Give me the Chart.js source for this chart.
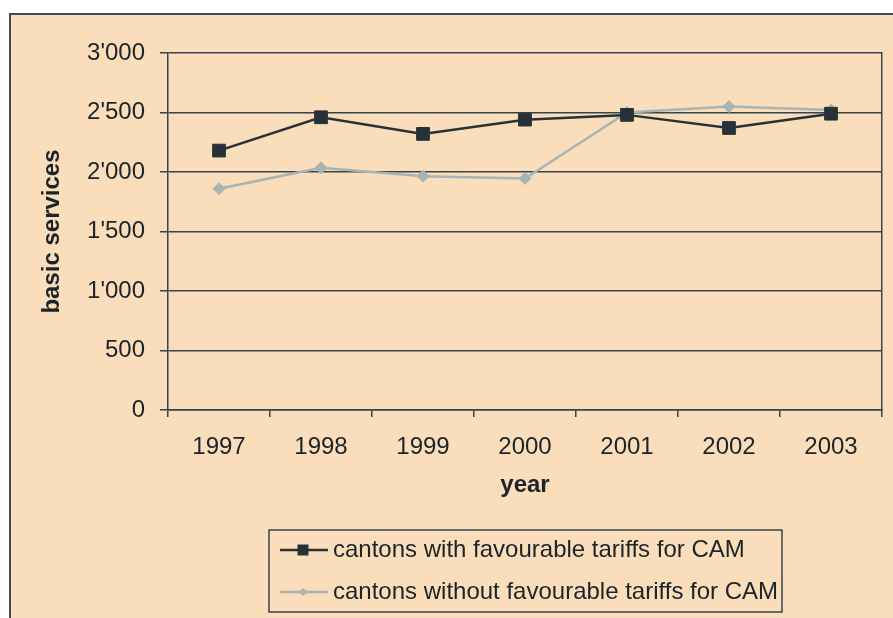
<!DOCTYPE html>
<html>
<head>
<meta charset="utf-8">
<script src="https://cdn.jsdelivr.net/npm/chart.js@4.4.1/dist/chart.umd.min.js"></script>
<style>
  html, body { margin: 0; padding: 0; background: #ffffff; width: 893px; height: 618px; overflow: hidden; }
  #frame {
    position: absolute; left: 9px; top: 13px;
    width: 882px; height: 605px;
    border-left: 2px solid #3a4c54; border-top: 2px solid #3a4c54;
    background: #FADDBA;
  }
  canvas { display: block; }
</style>
</head>
<body>
<div id="frame"><canvas id="c" width="882" height="603"></canvas></div>
<script>
// ---- data ----
const categories = ["1997", "1998", "1999", "2000", "2001", "2002", "2003"];
const withTariffs = [2180, 2460, 2320, 2440, 2480, 2370, 2490];
const withoutTariffs = [1860, 2035, 1965, 1945, 2500, 2550, 2520];
const seriesLabels = ["cantons with favourable tariffs for CAM", "cantons without favourable tariffs for CAM"];
const yTickLabels = ["0", "500", "1'000", "1'500", "2'000", "2'500", "3'000"];
const xTitle = "year";
const yTitle = "basic services";

// ---- styles ----
const FONT = "'Liberation Sans', Arial, sans-serif";
const TEXT = "#1b2428";
const GRID = "#34454c";
const DARK = "#263238";
const LIGHT = "#a6b4b6";

const boxedLegend = {
  id: 'boxedLegend',
  afterDraw(chart) {
    const ctx = chart.ctx;
    ctx.save();
    ctx.strokeStyle = GRID;
    ctx.lineWidth = 1.5;
    ctx.strokeRect(258, 515, 513, 82);
    chart.data.datasets.forEach((ds, i) => {
      const y = 535 + i * 42;
      ctx.strokeStyle = ds.borderColor;
      ctx.lineWidth = 2.5;
      ctx.beginPath(); ctx.moveTo(269, y); ctx.lineTo(317, y); ctx.stroke();
      ctx.fillStyle = ds.backgroundColor;
      ctx.beginPath();
      if (ds.pointStyle === 'rect') {
        ctx.rect(292 - 5.5, y - 5.5, 11, 11);
      } else {
        ctx.moveTo(292 - 4.5, y); ctx.lineTo(292, y - 4); ctx.lineTo(292 + 4.5, y); ctx.lineTo(292, y + 4); ctx.closePath();
      }
      ctx.fill();
      ctx.fillStyle = TEXT;
      ctx.font = "24px " + FONT;
      ctx.textBaseline = 'middle';
      ctx.textAlign = 'left';
      ctx.fillText(ds.label, 322, y);
    });
    ctx.restore();
  }
};

new Chart(document.getElementById('c'), {
  type: 'line',
  data: {
    labels: categories,
    datasets: [
      {
        label: seriesLabels[0], data: withTariffs,
        borderColor: DARK, backgroundColor: DARK, borderWidth: 2.5,
        pointStyle: 'rect', pointRadius: 9, pointBorderWidth: 1, tension: 0
      },
      {
        label: seriesLabels[1], data: withoutTariffs,
        borderColor: LIGHT, backgroundColor: LIGHT, borderWidth: 2.5,
        pointStyle: 'rectRot', pointRadius: 6, pointBorderWidth: 1, tension: 0
      }
    ]
  },
  options: {
    responsive: false, animation: false, devicePixelRatio: 1,
    layout: { padding: { top: 38, bottom: 118, left: 0, right: 0 } },
    plugins: { legend: { display: false }, tooltip: { enabled: false } },
    font: { family: FONT },
    scales: {
      x: {
        type: 'category', offset: true,
        grid: { offset: true, drawOnChartArea: false, drawTicks: true, tickLength: 7, color: GRID, lineWidth: 1.5 },
        border: { display: true, color: GRID, width: 1.5 },
        ticks: { color: TEXT, font: { size: 24, family: FONT }, padding: 16, maxRotation: 0 },
        title: { display: true, text: xTitle, color: TEXT, font: { size: 24, weight: 'bold', family: FONT }, padding: 0 },
        afterFit(s) { s.height = 90; }
      },
      y: {
        min: 0, max: 3000,
        ticks: { stepSize: 500, color: TEXT, font: { size: 24, family: FONT }, padding: 15,
          callback: (v, i) => yTickLabels[i] },
        grid: { color: GRID, lineWidth: 1.5, tickLength: 8, drawTicks: true },
        border: { display: true, color: GRID, width: 1.5 },
        title: { display: true, text: yTitle, color: TEXT, font: { size: 24, weight: 'bold', family: FONT }, padding: { top: 27, bottom: 0 } },
        afterFit(s) { s.width = 157; }
      },
      y2: {
        position: 'right', display: true, min: 0, max: 3000,
        grid: { display: false, drawOnChartArea: false },
        ticks: { display: false },
        border: { display: true, color: GRID, width: 1.5 },
        afterFit(s) { s.width = 11; }
      }
    }
  },
  plugins: [boxedLegend]
});
</script>
</body>
</html>
